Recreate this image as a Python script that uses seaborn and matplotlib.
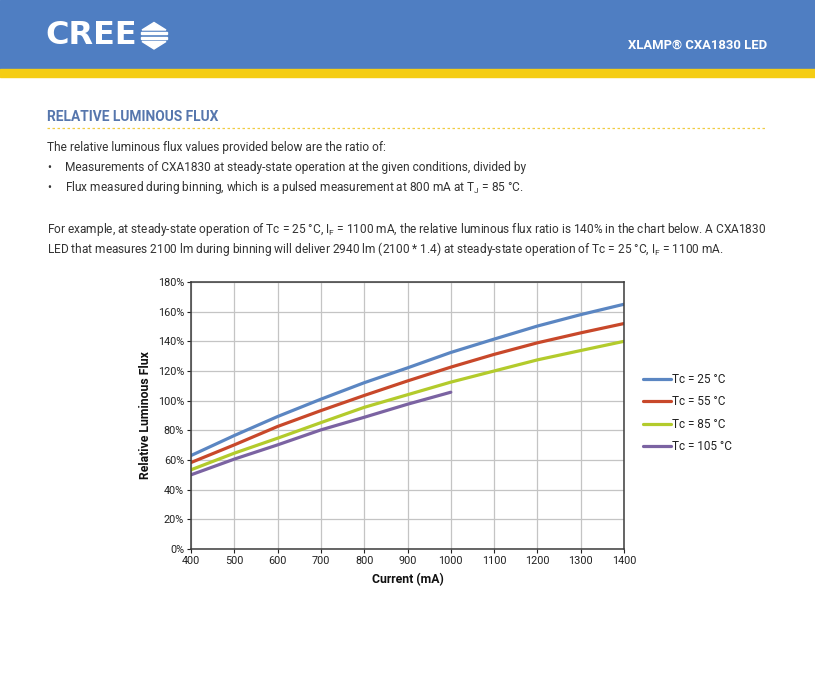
import numpy as np
import pandas as pd
import matplotlib
matplotlib.use("Agg")
import matplotlib.pyplot as plt
from matplotlib.patches import Polygon, Rectangle
from matplotlib.lines import Line2D
import seaborn as sns

# ---------------- data ----------------
current_ma = [400, 500, 600, 700, 800, 900, 1000, 1100, 1200, 1300, 1400]
current_ma_105 = [400, 500, 600, 700, 800, 900, 1000]
flux_25 = [63, 76.5, 89.3, 101, 112.1, 122.1, 132.5, 141.5, 150.3, 158, 165]
flux_55 = [58.3, 70.2, 82.6, 93.3, 103.5, 113.3, 122.6, 131.2, 139, 145.7, 152]
flux_85 = [53.4, 64.6, 74.7, 85.2, 95.5, 104, 112.5, 120, 127.5, 133.8, 140]
flux_105 = [50, 60.6, 70.2, 80.3, 88.8, 97.6, 105.7]
series_labels = ["Tc = 25 °C", "Tc = 55 °C", "Tc = 85 °C", "Tc = 105 °C"]
x_ticks = [400, 500, 600, 700, 800, 900, 1000, 1100, 1200, 1300, 1400]
y_ticks = [0, 20, 40, 60, 80, 100, 120, 140, 160, 180]

rows = []
for lab, xs, ys in zip(series_labels,
                       [current_ma, current_ma, current_ma, current_ma_105],
                       [flux_25, flux_55, flux_85, flux_105]):
    for x, y in zip(xs, ys):
        rows.append({"Current": x, "Flux": y, "Series": lab})
df = pd.DataFrame(rows)

palette = {
    "Tc = 25 °C": "#5b86c2",
    "Tc = 55 °C": "#c8482a",
    "Tc = 85 °C": "#b3cb2c",
    "Tc = 105 °C": "#7b63a2",
}

# ---------------- figure ----------------
sns.set_style("white")
plt.rcParams["font.family"] = ["Roboto", "DejaVu Sans"]
plt.rcParams["mathtext.fontset"] = "custom"
plt.rcParams["mathtext.rm"] = "Roboto"

W, H = 815, 689
fig = plt.figure(figsize=(W / 100, H / 100), dpi=100)

def fx(px):
    return px / W

def fy(py):
    return 1 - py / H

# header bands
fig.patches.append(Rectangle((0, fy(69)), 1, 69 / H, transform=fig.transFigure,
                             color="#4f7ec2", zorder=0))
fig.patches.append(Rectangle((0, fy(76.5)), 1, 7.5 / H, transform=fig.transFigure,
                             color="#f5cd14", zorder=0))

# logo
fig.text(fx(45.5), fy(36), "CREE", color="white", fontsize=23, fontweight="bold",
         family="DejaVu Sans", va="center", ha="left")
tri_up = [(fx(142), fy(30)), (fx(166), fy(30)), (fx(154), fy(22.5))]
tri_dn = [(fx(142), fy(41.5)), (fx(166), fy(41.5)), (fx(154), fy(49))]
fig.patches.append(Polygon(tri_up, closed=True, transform=fig.transFigure, color="white"))
fig.patches.append(Polygon(tri_dn, closed=True, transform=fig.transFigure, color="white"))
fig.patches.append(Rectangle((fx(141), fy(34.3)), 26 / W, 2.3 / H, transform=fig.transFigure, color="white"))
fig.patches.append(Rectangle((fx(141), fy(39.0)), 26 / W, 2.3 / H, transform=fig.transFigure, color="white"))

fig.text(fx(767), fy(45), "XLAMP® CXA1830 LED", color="white", fontsize=9.4,
         fontweight="bold", ha="right", va="center")

# section title
fig.text(fx(47), fy(117), "RELATIVE LUMINOUS FLUX", color="#5676ad", fontsize=9.95,
         fontweight="bold", ha="left", va="center")
fig.add_artist(Line2D([fx(47), fx(767)], [fy(128), fy(128)], transform=fig.transFigure,
                      color="#f0cc45", lw=0.9, linestyle=(0, (2, 2))))

txt_kw = dict(color="#333333", fontsize=8.6, ha="left", va="center")
fig.text(fx(47), fy(147), "The relative luminous flux values provided below are the ratio of:", **txt_kw)
fig.text(fx(47), fy(168), "•", **txt_kw)
fig.text(fx(65), fy(168), "Measurements of CXA1830 at steady-state operation at the given conditions, divided by", **txt_kw)
fig.text(fx(47), fy(187), "•", **txt_kw)
fig.text(fx(65), fy(187), r"Flux measured during binning, which is a pulsed measurement at 800 mA at T$_\mathregular{J}$ = 85 °C.", **txt_kw)
fig.text(fx(47), fy(229), r"For example, at steady-state operation of Tc = 25 °C, I$_\mathregular{F}$ = 1100 mA, the relative luminous flux ratio is 140% in the chart below. A CXA1830", **txt_kw)
fig.text(fx(47), fy(249), r"LED that measures 2100 lm during binning will deliver 2940 lm (2100 * 1.4) at steady-state operation of Tc = 25 °C, I$_\mathregular{F}$ = 1100 mA.", **txt_kw)

# ---------------- chart ----------------
ax = fig.add_axes([fx(191), fy(549), 433 / W, 267 / H])
sns.lineplot(data=df, x="Current", y="Flux", hue="Series", palette=palette,
             hue_order=series_labels, linewidth=2.3, ax=ax, legend=True)

ax.set_xlim(400, 1400)
ax.set_ylim(0, 180)
ax.set_xticks(x_ticks)
ax.set_yticks(y_ticks)
ax.set_yticklabels([f"{v}%" for v in y_ticks])
ax.grid(True, color="#c4c4c4", linewidth=0.9)
ax.set_axisbelow(True)
for s in ax.spines.values():
    s.set_color("#3c3c3c")
    s.set_linewidth(1.1)
ax.tick_params(axis="both", labelsize=7.8, colors="#222222", length=3, width=0.8,
               direction="out", pad=2, left=True, bottom=True)
ax.set_xlabel("Current (mA)", fontsize=8.8, fontweight="bold", color="#111111", labelpad=5)
ax.set_ylabel("Relative Luminous Flux", fontsize=8.8, fontweight="bold", color="#111111", labelpad=4)

leg = ax.legend(loc="center left", bbox_to_anchor=(fx(637), fy(413)),
                bbox_transform=fig.transFigure, frameon=False, fontsize=8.5,
                handlelength=2.4, handletextpad=0.1, labelspacing=0.8, borderpad=0)
for line in leg.get_lines():
    line.set_linewidth(2.3)
for t in leg.get_texts():
    t.set_color("#222222")

fig.savefig("out.png", dpi=100)
